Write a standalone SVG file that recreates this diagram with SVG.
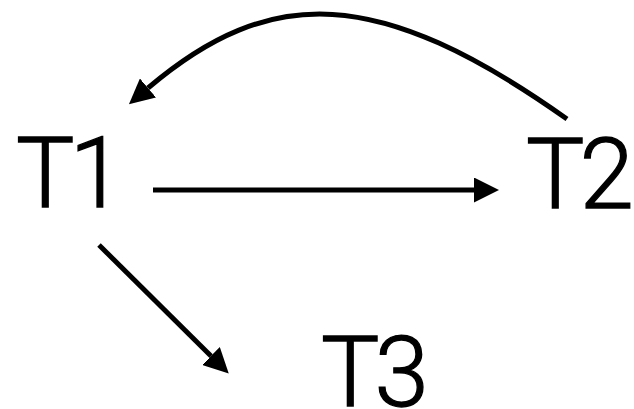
<svg xmlns="http://www.w3.org/2000/svg" width="634" height="409" viewBox="0 0 634 409">
  <style>
    .lbl { font-family: Roboto, "Liberation Sans", sans-serif; font-weight: 300; font-size: 98px; fill: #000; stroke: #000; stroke-width: 1.3; letter-spacing: -5px; }
    .edge { fill: none; stroke: #000; stroke-width: 5; }
  </style>
  <defs>
    <marker id="arrow" viewBox="0 0 25 25" refX="0" refY="12.5" markerWidth="25" markerHeight="25" markerUnits="userSpaceOnUse" orient="auto">
      <path d="M0,0 L25,12.5 L0,25 z" fill="#000"/>
    </marker>
  </defs>
  <rect width="634" height="409" fill="#fff"/>
  <g id="connectors">
    <path class="edge" d="M153,190 L474,190" marker-end="url(#arrow)"/>
    <path class="edge" d="M567,119 C378,-15 270,-15.5 148,88" marker-end="url(#arrow)"/>
    <path class="edge" d="M99,245 L211,356" marker-end="url(#arrow)"/>
  </g>
  <g id="T1"><text class="lbl" x="16" y="207">T1</text></g>
  <g id="T2"><text class="lbl" x="526" y="208">T2</text></g>
  <g id="T3"><text class="lbl" x="321" y="406">T3</text></g>
</svg>
